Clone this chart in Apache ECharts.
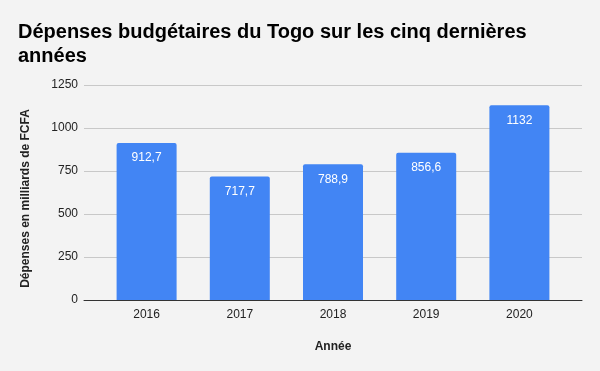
<!DOCTYPE html>
<html>
<head>
<meta charset="utf-8">
<script src="https://cdn.jsdelivr.net/npm/echarts@6/dist/echarts.min.js"></script>
<style>
  html, body { margin: 0; padding: 0; background: #f3f3f3; }
  #chart { width: 600px; height: 371px; }
</style>
</head>
<body>
<div id="chart"></div>
<script>
const years = ["2016", "2017", "2018", "2019", "2020"];
const depenses = [912.7, 717.7, 788.9, 856.6, 1132];
const yMin = 0;
const yMax = 1250;
const yStep = 250;

const formatFr = (value) => String(value).replace(".", ",");

const chart = echarts.init(document.getElementById("chart"), undefined, { renderer: "canvas" });

// grid 0: frame (gridlines, y labels, baseline) ; grid 1: the bars, inset like Google Charts
chart.setOption({
  backgroundColor: "#f3f3f3",
  textStyle: { fontFamily: "Liberation Sans, Arial, sans-serif" },
  title: {
    text: "Dépenses budgétaires du Togo sur les cinq dernières\nannées",
    left: 18,
    top: 20,
    padding: 0,
    textStyle: {
      fontSize: 20,
      fontWeight: "bold",
      color: "#000",
      lineHeight: 24,
      fontFamily: "Liberation Sans, Arial, sans-serif",
    },
  },
  grid: [
    { left: 84, right: 18, top: 85, bottom: 71 },
    { left: 100, right: 34, top: 85, bottom: 71 },
  ],
  xAxis: [
    {
      gridIndex: 0,
      type: "value",
      min: 0,
      max: 1,
      axisLine: { show: true, onZero: false, lineStyle: { color: "#333", width: 1 } },
      axisTick: { show: false },
      axisLabel: { show: false },
      splitLine: { show: false },
    },
    {
      gridIndex: 1,
      type: "category",
      data: years,
      name: "Année",
      nameLocation: "middle",
      nameGap: 41,
      nameTextStyle: { fontWeight: "bold", fontSize: 12, color: "#222" },
      axisLine: { show: false },
      axisTick: { show: false },
      axisLabel: { color: "#222", fontSize: 12, margin: 9 },
    },
  ],
  yAxis: [
    {
      gridIndex: 0,
      type: "value",
      min: yMin,
      max: yMax,
      interval: yStep,
      name: "Dépenses en milliards de FCFA",
      nameLocation: "middle",
      nameGap: 52,
      nameTextStyle: { fontWeight: "bold", fontSize: 12, color: "#222", padding: [0, 12, 0, 0] },
      axisLine: { show: false },
      axisTick: { show: false },
      axisLabel: { color: "#222", fontSize: 12, margin: 6, formatter: (v) => String(v) },
      splitLine: { lineStyle: { color: "#c8c8c8" } },
    },
    {
      gridIndex: 1,
      type: "value",
      min: yMin,
      max: yMax,
      interval: yStep,
      axisLine: { show: false },
      axisTick: { show: false },
      axisLabel: { show: false },
      splitLine: { show: false },
    },
  ],
  series: [
    {
      type: "bar",
      xAxisIndex: 1,
      yAxisIndex: 1,
      data: depenses,
      barWidth: 60,
      z: 3,
      itemStyle: { color: "#4285f4", borderRadius: [2, 2, 0, 0] },
      label: {
        show: true,
        position: "insideTop",
        distance: 9,
        color: "#fff",
        fontSize: 12,
        formatter: (p) => formatFr(p.value),
      },
    },
  ],
});
</script>
</body>
</html>
